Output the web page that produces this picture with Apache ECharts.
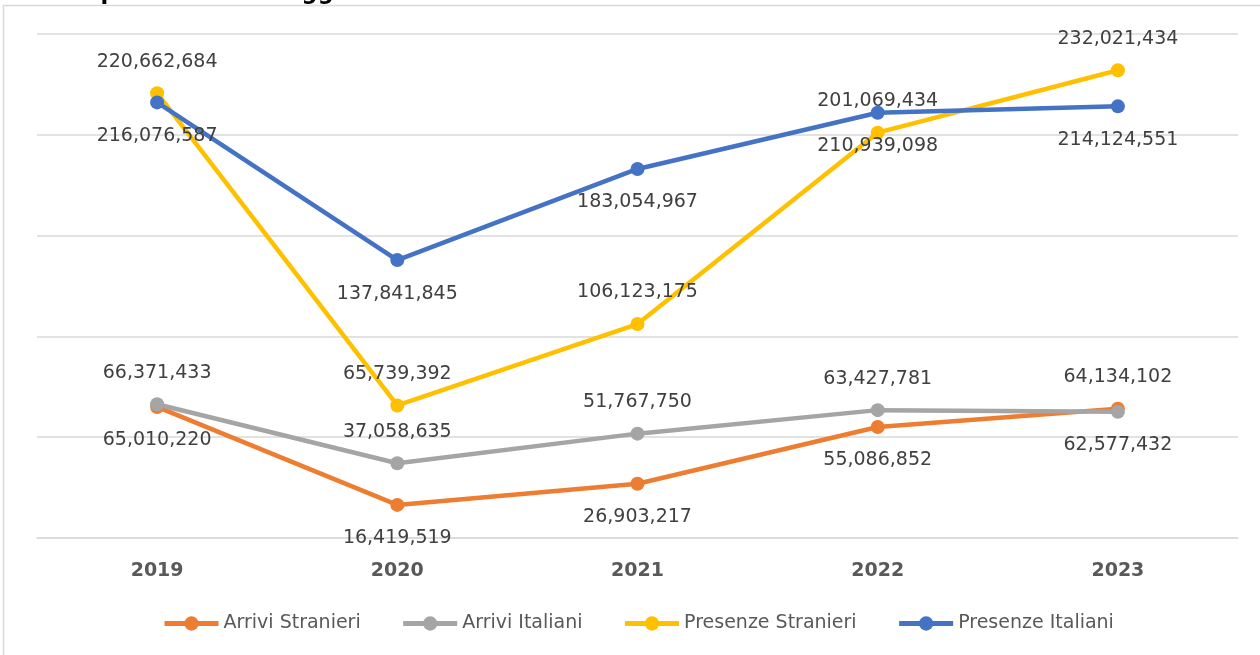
<!DOCTYPE html>
<html>
<head>
<meta charset="utf-8">
<script src="https://cdn.jsdelivr.net/npm/echarts@6/dist/echarts.min.js"></script>
<style>html,body{margin:0;padding:0;background:#fff;}#c{width:1260px;height:655px;}</style>
</head>
<body>
<div id="c"></div>
<script>
const years = ['2019', '2020', '2021', '2022', '2023'];
const arriviStranieri = [65010220, 16419519, 26903217, 55086852, 64134102];
const arriviItaliani = [66371433, 37058635, 51767750, 63427781, 62577432];
const presenzeStranieri = [220662684, 65739392, 106123175, 201069434, 232021434];
const presenzeItaliani = [216076587, 137841845, 183054967, 210939098, 214124551];
const seriesNames = ['Arrivi Stranieri', 'Arrivi Italiani', 'Presenze Stranieri', 'Presenze Italiani'];

const FONT = 'DejaVu Sans';
const colors = ['#ED7D31', '#A5A5A5', '#FFC000', '#4472C4'];
// label placement per series (style only)
const labelPlacement = [
  ['bottom', 'bottom', 'bottom', 'bottom', 'top'],
  ['top', 'top', 'top', 'top', 'bottom'],
  ['top', 'top', 'top', 'top', 'top'],
  ['bottom', 'bottom', 'bottom', 'bottom', 'bottom']
];
const fmt = v => v.toLocaleString('en-US');

function mk(idx, values) {
  return {
    name: seriesNames[idx],
    type: 'line',
    z: 2 + idx,
    data: values.map((v, i) => ({
      value: v,
      label: { position: labelPlacement[idx][i], distance: labelPlacement[idx][i] === 'top' ? 15 : 17 }
    })),
    symbol: 'circle',
    symbolSize: 14,
    lineStyle: { width: 4.5, color: colors[idx] },
    itemStyle: { color: colors[idx] },
    label: {
      show: true,
      formatter: p => fmt(p.value),
      fontFamily: FONT,
      fontSize: 19,
      color: '#404040'
    },
    emphasis: { disabled: true },
    animation: false
  };
}

const chart = echarts.init(document.getElementById('c'), null, { renderer: 'canvas' });
chart.setOption({
  animation: false,
  color: colors,
  graphic: [
    { type: 'rect', shape: { x: 3.5, y: 5.5, width: 1400, height: 800 },
      style: { fill: 'none', stroke: '#D9D9D9', lineWidth: 1.5 }, silent: true },
    { type: 'text', left: 0, top: -18,
      style: { text: 'Arrivi e presenze in alloggi', font: 'bold 22.5px "DejaVu Sans"', fill: '#000' }, silent: true }
  ],
  grid: { left: 37, right: 22, top: 34, bottom: 117 },
  legend: {
    bottom: 17,
    left: 157,
    itemWidth: 54,
    itemHeight: 18,
    itemGap: 40,
    lineStyle: { width: 5 },
    textStyle: { fontFamily: FONT, fontSize: 19, color: '#595959' },
    data: seriesNames
  },
  xAxis: {
    type: 'category',
    data: years,
    boundaryGap: true,
    axisLine: { show: true, lineStyle: { color: '#D9D9D9', width: 1.5 } },
    axisTick: { show: false },
    axisLabel: { fontFamily: FONT, fontSize: 19, fontWeight: 'bold', color: '#595959', margin: 24 }
  },
  yAxis: {
    type: 'value',
    min: 0,
    max: 250000000,
    interval: 50000000,
    axisLabel: { show: false },
    axisLine: { show: false },
    axisTick: { show: false },
    splitLine: { lineStyle: { color: '#D9D9D9', width: 1.5 } }
  },
  series: [
    mk(0, arriviStranieri),
    mk(1, arriviItaliani),
    mk(2, presenzeStranieri),
    mk(3, presenzeItaliani)
  ]
});
</script>
</body>
</html>
